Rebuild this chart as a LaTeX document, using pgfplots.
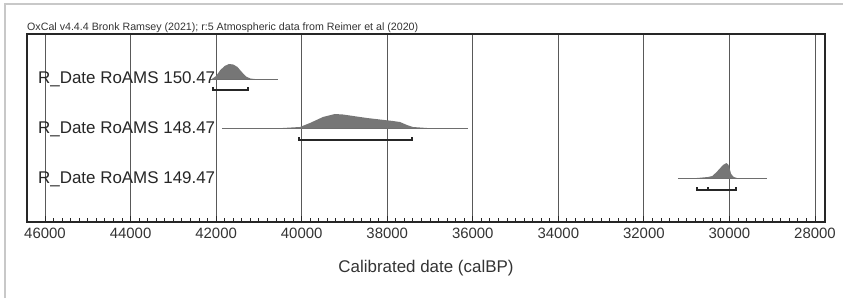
\documentclass[border=0pt]{standalone}
\usepackage{pgfplots}
\pgfplotsset{compat=1.18}
\usepackage{fontspec}
\setmainfont{Liberation Sans}
\definecolor{distgray}{RGB}{118,118,118}
\definecolor{framegray}{RGB}{200,200,200}
\definecolor{linegray}{RGB}{110,110,110}
\begin{document}
\begin{tikzpicture}[x=1bp,y=1bp]
\useasboundingbox (0,0) rectangle (843,298);
\draw[framegray, line width=2bp] (5,0) -- (5,294) -- (843,294);
\begin{axis}[at={(27bp,76bp)}, anchor=south west, scale only axis,
  width=798bp, height=188bp,
  xmin=27766, xmax=46421, ymin=0, ymax=188, x dir=reverse,
  axis line style={line width=1.6bp, black!85},
  ytick=\empty, xtick={28000,30000,...,46000}, minor x tick num=9,
  scaled x ticks=false,
  xtick pos=bottom, tick align=inside, major tick length=6bp, minor tick length=4bp,
  tick style={black!85, line width=0.8bp},
  xmajorgrids, grid style={black!65, line width=0.9bp},
  xticklabel style={font=\fontsize{15}{18}\selectfont, text=black!80, anchor=center, yshift=-11bp},
  /pgf/number format/1000 sep={}, /pgf/number format/assume math mode=true,
  xlabel={Calibrated date (calBP)},
  xlabel style={at={(axis description cs:0.5,0)}, anchor=center, yshift=-46bp,
    font=\fontsize{17}{20}\selectfont, text=black!80},
  clip=false]
% row 1: R_Date RoAMS 150.47
\addplot[linegray, line width=0.9bp] coordinates {(42150,143) (40554,143)};
\addplot[fill=distgray, draw=none] coordinates {(42100,143) (42000,146) (41900,152) (41800,156) (41700,158) (41600,157.5) (41500,155) (41400,150) (41300,145.5) (41200,143.5) (41100,143)} -- cycle;
\addplot[black!85, line width=1.3bp] coordinates {(42073,135) (42073,132) (41255,132) (41255,135)};
% row 2: R_Date RoAMS 148.47
\addplot[linegray, line width=0.9bp] coordinates {(41863,94) (36112,94)};
\addplot[fill=distgray, draw=none] coordinates {(40437,94) (40039,95) (39806,99) (39502,105) (39221,108) (39034,107.5) (38473,104) (37865,101) (37702,100) (37538,97) (37398,95) (37071,94)} -- cycle;
\addplot[black!85, line width=1.3bp] coordinates {(40063,85) (40063,82) (37421,82) (37421,85)};
% row 3: R_Date RoAMS 149.47
\addplot[linegray, line width=0.9bp] coordinates {(31203,44) (29123,44)};
\addplot[fill=distgray, draw=none] coordinates {(30759,44) (30500,45) (30400,46) (30300,50) (30150,57) (30070,59) (30020,57) (29960,48) (29900,45) (29825,44)} -- cycle;
\addplot[black!85, line width=1.3bp] coordinates {(30759,35) (30759,32) (29848,32) (29848,35)};
\addplot[black!85, line width=1.3bp] coordinates {(30502,32) (30502,35)};
% labels
\node[anchor=base west, inner sep=0, font=\fontsize{17}{20}\selectfont, text=black!85] at (axis cs:46164,138) {R\_Date RoAMS 150.47};
\node[anchor=base west, inner sep=0, font=\fontsize{17}{20}\selectfont, text=black!85] at (axis cs:46164,88.5) {R\_Date RoAMS 148.47};
\node[anchor=base west, inner sep=0, font=\fontsize{17}{20}\selectfont, text=black!85] at (axis cs:46164,39) {R\_Date RoAMS 149.47};
\node[anchor=base west, inner sep=0, font=\fontsize{10.7}{12}\selectfont, text=black!80] at (axis cs:46421,191) {OxCal v4.4.4 Bronk Ramsey (2021); r:5 Atmospheric data from Reimer et al (2020)};
\end{axis}
\end{tikzpicture}
\end{document}
